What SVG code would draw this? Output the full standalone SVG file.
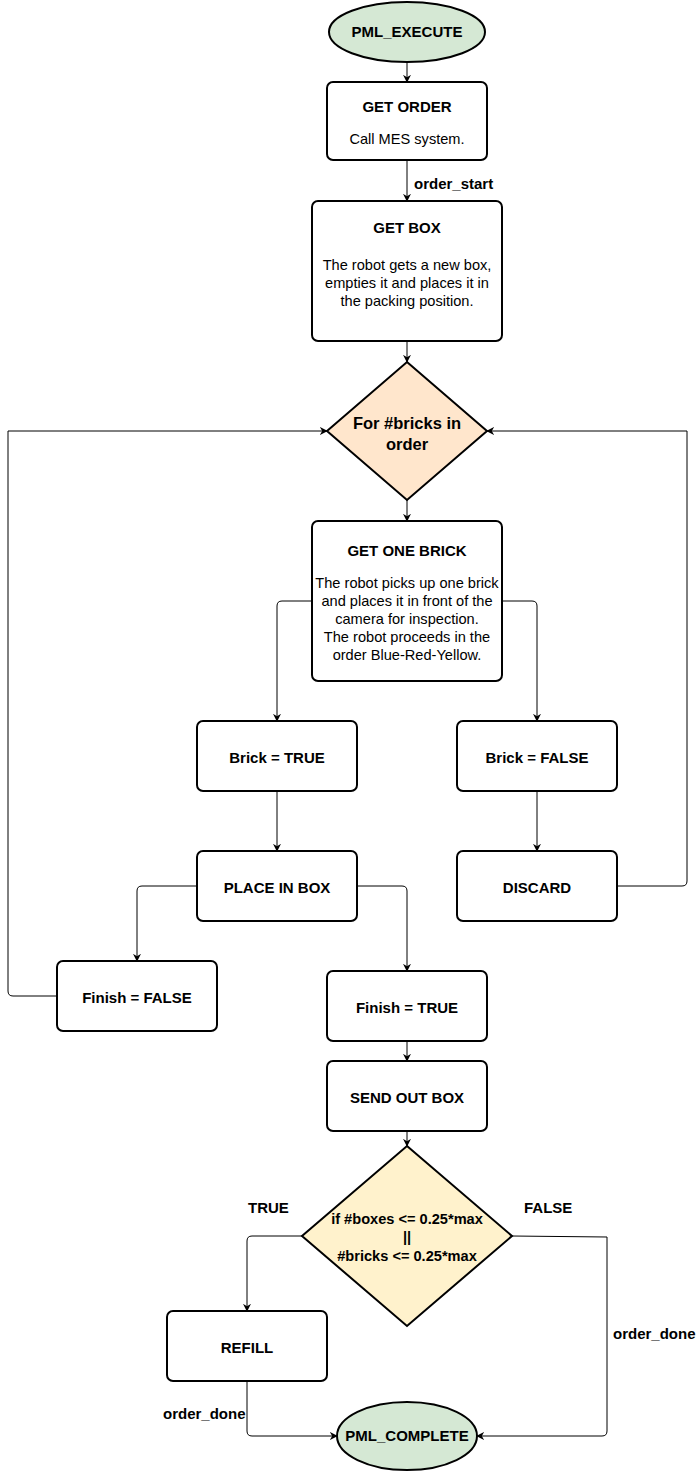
<svg xmlns="http://www.w3.org/2000/svg" width="698" height="1472" viewBox="0 0 698 1472">
<defs>
<style>
.n{fill:#fff;stroke:#000;stroke-width:2}
.t{font-family:"Liberation Sans",Arial,sans-serif;font-size:14.6px;fill:#000;text-anchor:middle}
.b{font-weight:bold;font-size:15px}
.e{fill:none;stroke:#000;stroke-width:1}
.l{font-family:"Liberation Sans",Arial,sans-serif;font-size:15px;font-weight:bold;fill:#000}
</style>
<marker id="a" viewBox="0 0 10 10" refX="9" refY="5" markerWidth="8" markerHeight="8" markerUnits="userSpaceOnUse" orient="auto">
<path d="M0,0 L10,5 L0,10 L3,5 Z" fill="#000"/>
</marker>
</defs>
<rect width="698" height="1472" fill="#fff"/>
<g id="connectors">
<path class="e" marker-end="url(#a)" d="M407,62 V82"/>
<path class="e" marker-end="url(#a)" d="M407,160 V201"/>
<path class="e" marker-end="url(#a)" d="M407,341 V362"/>
<path class="e" marker-end="url(#a)" d="M407,500 V521"/>
<path class="e" marker-end="url(#a)" d="M312,601 H282 Q277,601 277,606 V721"/>
<path class="e" marker-end="url(#a)" d="M502,601 H532 Q537,601 537,606 V721"/>
<path class="e" marker-end="url(#a)" d="M277,791 V851"/>
<path class="e" marker-end="url(#a)" d="M537,791 V851"/>
<path class="e" marker-end="url(#a)" d="M197,886 H142 Q137,886 137,891 V961"/>
<path class="e" marker-end="url(#a)" d="M357,886 H402 Q407,886 407,891 V971"/>
<path class="e" marker-end="url(#a)" d="M57,996 H13 Q8,996 8,991 V431 H327"/>
<path class="e" marker-end="url(#a)" d="M617,886 H682 Q687,886 687,881 V431 H487"/>
<path class="e" marker-end="url(#a)" d="M407,1041 V1061"/>
<path class="e" marker-end="url(#a)" d="M407,1131 V1146"/>
<path class="e" marker-end="url(#a)" d="M302,1236 H252 Q247,1236 247,1241 V1311"/>
<path class="e" marker-end="url(#a)" d="M512,1236 L607,1237 V1431 Q607,1436 602,1436 H477"/>
<path class="e" marker-end="url(#a)" d="M247,1381 V1431 Q247,1436 252,1436 H337"/>
<text class="l" x="414" y="189">order_start</text>
<text class="l" x="248" y="1213">TRUE</text>
<text class="l" x="524" y="1213">FALSE</text>
<text class="l" x="613" y="1339">order_done</text>
<text class="l" x="163" y="1419">order_done</text>
</g>
<g id="pml_execute">
<ellipse cx="407" cy="32" rx="78" ry="30" fill="#d5e8d4" stroke="#000" stroke-width="2"/>
<text class="t b" x="407" y="37">PML_EXECUTE</text>
</g>
<g id="get_order">
<rect class="n" x="327" y="82" width="160" height="78" rx="6"/>
<text class="t b" x="407" y="112">GET ORDER</text>
<text class="t" x="407" y="144">Call MES system.</text>
</g>
<g id="get_box">
<rect class="n" x="312" y="201" width="190" height="140" rx="6"/>
<text class="t b" x="407" y="233">GET BOX</text>
<text class="t" x="407" y="270">The robot gets a new box,</text>
<text class="t" x="407" y="288">empties it and places it in</text>
<text class="t" x="407" y="306">the packing position.</text>
</g>
<g id="for_bricks">
<polygon points="407,362 487,431 407,500 327,431" fill="#ffe6cc" stroke="#000" stroke-width="2"/>
<text class="t b" x="407" y="429" style="font-size:16.5px">For #bricks in</text>
<text class="t b" x="407" y="450" style="font-size:16.5px">order</text>
</g>
<g id="get_one_brick">
<rect class="n" x="312" y="521" width="190" height="160" rx="6"/>
<text class="t b" x="407" y="556">GET ONE BRICK</text>
<text class="t" x="407" y="588">The robot picks up one brick</text>
<text class="t" x="407" y="606">and places it in front of the</text>
<text class="t" x="407" y="624">camera for inspection.</text>
<text class="t" x="407" y="642">The robot proceeds in the</text>
<text class="t" x="407" y="660">order Blue-Red-Yellow.</text>
</g>
<g id="brick_true">
<rect class="n" x="197" y="721" width="160" height="70" rx="6"/>
<text class="t b" x="277" y="763">Brick = TRUE</text>
</g>
<g id="brick_false">
<rect class="n" x="457" y="721" width="160" height="70" rx="6"/>
<text class="t b" x="537" y="763">Brick = FALSE</text>
</g>
<g id="place_in_box">
<rect class="n" x="197" y="851" width="160" height="70" rx="6"/>
<text class="t b" x="277" y="893">PLACE IN BOX</text>
</g>
<g id="discard">
<rect class="n" x="457" y="851" width="160" height="70" rx="6"/>
<text class="t b" x="537" y="893">DISCARD</text>
</g>
<g id="finish_false">
<rect class="n" x="57" y="961" width="160" height="70" rx="6"/>
<text class="t b" x="137" y="1003">Finish = FALSE</text>
</g>
<g id="finish_true">
<rect class="n" x="327" y="971" width="160" height="70" rx="6"/>
<text class="t b" x="407" y="1013">Finish = TRUE</text>
</g>
<g id="send_out_box">
<rect class="n" x="327" y="1061" width="160" height="70" rx="6"/>
<text class="t b" x="407" y="1103">SEND OUT BOX</text>
</g>
<g id="refill_check">
<polygon points="407,1146 512,1236 407,1326 302,1236" fill="#fff2cc" stroke="#000" stroke-width="2"/>
<text class="t b" x="407" y="1224" style="font-size:14.6px">if #boxes &lt;= 0.25*max</text>
<text class="t b" x="407" y="1242" style="font-size:14.6px">||</text>
<text class="t b" x="407" y="1261" style="font-size:14.6px">#bricks &lt;= 0.25*max</text>
</g>
<g id="refill">
<rect class="n" x="167" y="1311" width="160" height="70" rx="6"/>
<text class="t b" x="247" y="1353">REFILL</text>
</g>
<g id="pml_complete">
<ellipse cx="407" cy="1436" rx="70" ry="34" fill="#d5e8d4" stroke="#000" stroke-width="2"/>
<text class="t b" x="407" y="1441">PML_COMPLETE</text>
</g>
</svg>
